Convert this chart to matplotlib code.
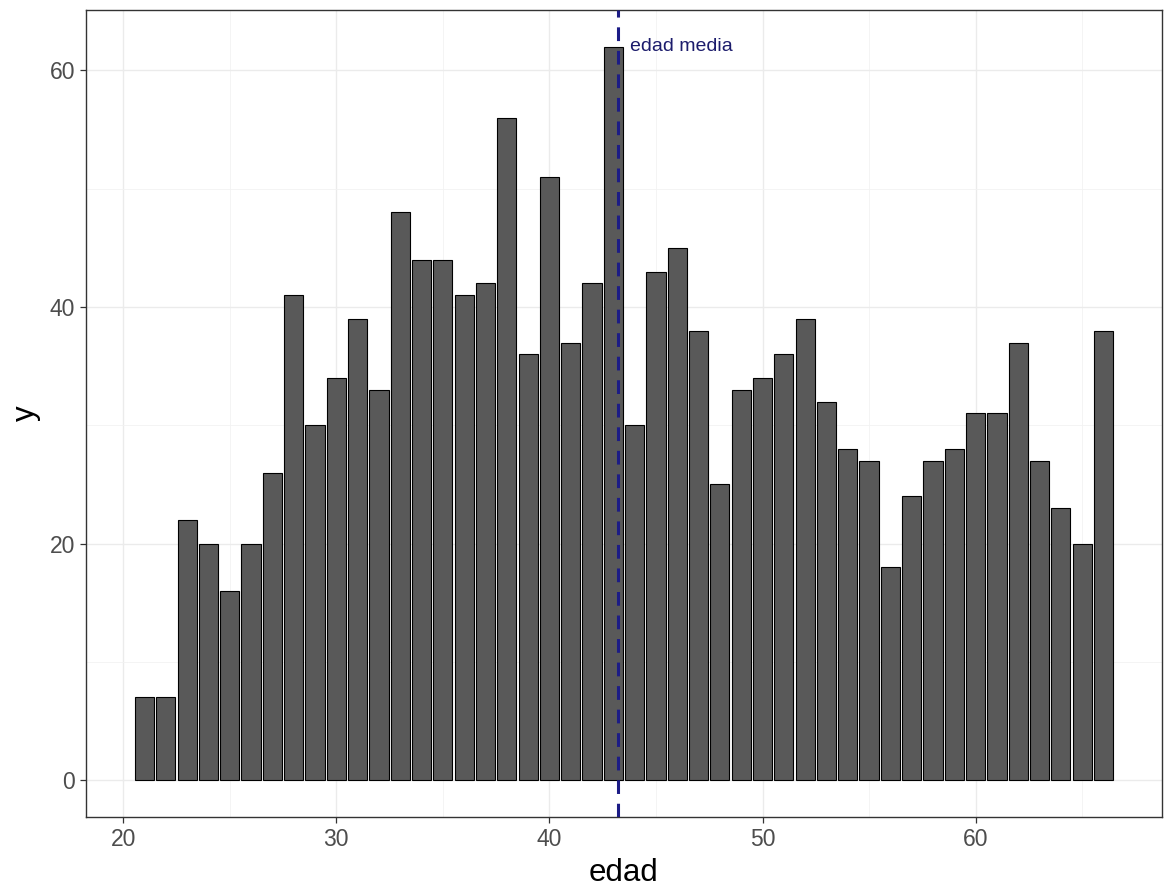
import numpy as np
import matplotlib
matplotlib.use("Agg")
import matplotlib.pyplot as plt
from matplotlib.ticker import MultipleLocator

plt.rcParams['font.family'] = ['Liberation Sans', 'DejaVu Sans']

# counts per age
edad = list(range(21, 67))
conteo = [7, 7, 22, 20, 16, 20, 26, 41, 30, 34, 39, 33, 48, 44, 44, 41, 42, 56,
          36, 51, 37, 42, 62, 30, 43, 45, 38, 25, 33, 34, 36, 39, 32, 28, 27, 18,
          24, 27, 28, 31, 31, 37, 27, 23, 20, 38]
edad_media = 43.2
etiqueta = "edad media"

W, H = 1166, 896
fig = plt.figure(figsize=(W / 100, H / 100), dpi=100)
# panel box in pixels: left 86, right 1162, top 10, bottom 817
ax = fig.add_axes([86 / W, 1 - 817 / H, (1162 - 86) / W, (817 - 10) / H])

ax.bar(edad, conteo, width=0.9, color="#595959", edgecolor="black",
       linewidth=0.8, zorder=2)
ax.axvline(edad_media, color="#1c1c86", linestyle=(0, (4.5, 3.2)), linewidth=2.2,
           zorder=3)
ax.text(edad_media + 0.6, 62, etiqueta, color="#1c1c6c", fontsize=14,
        ha="left", va="center", zorder=4)

# ggplot-like expansion
lo, hi = min(edad) - 0.45, max(edad) + 0.45
pad = (hi - lo) * 0.05
ax.set_xlim(lo - pad, hi + pad)
ax.set_ylim(-max(conteo) * 0.05, max(conteo) * 1.05)

ax.xaxis.set_major_locator(MultipleLocator(10))
ax.xaxis.set_minor_locator(MultipleLocator(5))
ax.yaxis.set_major_locator(MultipleLocator(20))
ax.yaxis.set_minor_locator(MultipleLocator(10))
ax.grid(which="major", color="#EBEBEB", linewidth=1.0, zorder=0)
ax.grid(which="minor", color="#F2F2F2", linewidth=0.6, zorder=0)
ax.set_axisbelow(True)

for s in ax.spines.values():
    s.set_color("#333333")
    s.set_linewidth(1.0)

ax.tick_params(which="major", length=4.3, width=0.9, color="#333333",
               labelsize=16.5, labelcolor="#4D4D4D", pad=3.6)
ax.tick_params(which="minor", length=0)

ax.set_xlabel("edad", fontsize=22.5, labelpad=5)
ax.set_ylabel("y", fontsize=22.5, labelpad=6)

fig.savefig("out.png", dpi=100)
